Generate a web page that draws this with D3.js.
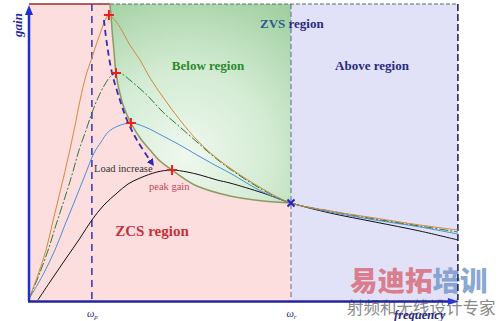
<!DOCTYPE html>
<html><head><meta charset="utf-8">
<script src="https://cdn.jsdelivr.net/npm/d3@7"></script>
<style>body{margin:0;background:#fff}svg{display:block}</style>
</head><body><svg id="c" width="500" height="321"></svg>
<script>
// normalized frequency (f / fr) and gain
const orangeCurve = [[0,0.01],[0.034,0.258],[0.065,0.515],[0.088,0.773],[0.111,1.031],[0.134,1.289],[0.156,1.546],[0.176,1.804],[0.195,2.062],[0.218,2.320],[0.237,2.474],[0.260,2.660],[0.279,2.804],[0.294,2.907],[0.305,2.938],[0.321,2.907],[0.347,2.814],[0.385,2.629],[0.424,2.474],[0.462,2.289],[0.511,2.093],[0.576,1.856],[0.641,1.649],[0.702,1.495],[0.767,1.361],[0.893,1.144],[1,1],[1.149,0.918],[1.321,0.845],[1.492,0.773],[1.637,0.722]];
const greenCurve = [[0,0.01],[0.038,0.258],[0.073,0.515],[0.103,0.773],[0.134,1.031],[0.164,1.289],[0.191,1.546],[0.218,1.753],[0.240,1.928],[0.263,2.082],[0.286,2.206],[0.309,2.299],[0.332,2.340],[0.355,2.330],[0.385,2.268],[0.450,2.113],[0.511,1.938],[0.576,1.784],[0.641,1.629],[0.702,1.485],[0.767,1.351],[0.893,1.134],[1,1],[1.149,0.918],[1.321,0.835],[1.492,0.763],[1.637,0.701]];
const blueCurve = [[0,0.01],[0.053,0.258],[0.099,0.515],[0.137,0.773],[0.176,1.031],[0.214,1.289],[0.248,1.515],[0.275,1.629],[0.302,1.732],[0.340,1.794],[0.389,1.825],[0.443,1.784],[0.511,1.691],[0.576,1.598],[0.641,1.495],[0.702,1.402],[0.767,1.309],[0.893,1.113],[1,1],[1.149,0.907],[1.321,0.825],[1.492,0.753],[1.637,0.680]];
const blackCurve = [[0.034,0],[0.080,0.186],[0.137,0.412],[0.195,0.639],[0.240,0.825],[0.286,0.979],[0.336,1.103],[0.378,1.196],[0.424,1.258],[0.489,1.320],[0.546,1.340],[0.603,1.320],[0.653,1.289],[0.718,1.237],[0.767,1.206],[0.893,1.103],[1,1],[1.149,0.897],[1.321,0.804],[1.492,0.711],[1.637,0.619]];
const peakLocus = [[0.309,3.052],[0.313,2.938],[0.317,2.784],[0.324,2.577],[0.332,2.340],[0.344,2.165],[0.363,1.979],[0.389,1.825],[0.424,1.670],[0.462,1.546],[0.500,1.433],[0.546,1.340],[0.595,1.247],[0.641,1.175],[0.767,1.072],[0.893,1.021],[1,1]];
const peakPoints = [[0.305,2.938],[0.332,2.340],[0.389,1.825],[0.546,1.340]];
const resonancePoint = [[1,1]];
const loadArrow = [[0.286,2.887],[0.298,2.629],[0.317,2.340],[0.347,2.062],[0.374,1.856],[0.412,1.649],[0.469,1.412]];
const fP = 0.240, fR = 1, fMax = 1.637, gMax = 3.052;
const tickValues = [fP, fR];
const tickLabels = [["ω","p"],["ω","r"]];

const svg = d3.select("#c");
const x = d3.scaleLinear().domain([0, 1.65]).range([29, 461.3]);
const y = d3.scaleLinear().domain([0, gMax]).range([300, 4]);
const serif = "'Liberation Serif','Times New Roman',serif";
const smooth = d3.curveCatmullRom.alpha(0.5);

const defs = svg.append("defs");
const rg = defs.append("radialGradient").attr("id","gg").attr("gradientUnits","userSpaceOnUse")
  .attr("cx",185).attr("cy",155).attr("r",215);
rg.append("stop").attr("offset",0).attr("stop-color","#eff8ef");
rg.append("stop").attr("offset",0.4).attr("stop-color","#d3ebd3");
rg.append("stop").attr("offset",1).attr("stop-color","#8cc48c");
defs.append("marker").attr("id","ah").attr("viewBox","0 0 10 10").attr("refX",5).attr("refY",5)
  .attr("markerWidth",4).attr("markerHeight",4).attr("orient","auto-start-reverse")
  .append("path").attr("d","M0,0L10,5L0,10z").attr("fill","#2a2ab0");

// regions
svg.append("rect").attr("x",x(0)).attr("y",y(gMax)).attr("width",x(fR)-x(0)).attr("height",y(0)-y(gMax)).attr("fill","#fcdede");
svg.append("rect").attr("x",x(fR)).attr("y",y(gMax)).attr("width",x(fMax)-x(fR)).attr("height",y(0)-y(gMax)).attr("fill","#e1e1f7");
svg.append("path").datum(peakLocus)
  .attr("d", d3.area().x(d=>x(d[0])).y0(y(gMax)).y1(d=>y(d[1])).curve(smooth))
  .attr("fill","url(#gg)");

// watermark
const wm = svg.append("text").attr("x",350).attr("y",291)
  .attr("font-family","'Noto Sans CJK SC',sans-serif").attr("font-weight",900).attr("font-size",27.5);
wm.append("tspan").attr("fill","#d9707e").attr("fill-opacity",0.9).text("易迪拓");
wm.append("tspan").attr("fill","#7b9ccb").attr("fill-opacity",0.9).text("培训");
svg.append("text").attr("x",347).attr("y",314).attr("font-family","'Noto Sans CJK SC',sans-serif")
  .attr("font-size",16.5).attr("fill","#8a8a8a").text("射频和无线设计专家");

// borders
svg.append("line").attr("x1",x(0)).attr("x2",x(0.309)).attr("y1",y(gMax)).attr("y2",y(gMax)).attr("stroke","#a02a2a").attr("stroke-width",1.5);
svg.append("line").attr("x1",x(0.309)).attr("x2",x(fMax)).attr("y1",y(gMax)).attr("y2",y(gMax)).attr("stroke","#5f6f62").attr("stroke-width",1.2).attr("stroke-dasharray","4,2");
svg.append("line").attr("x1",x(fMax)).attr("x2",x(fMax)).attr("y1",y(gMax)).attr("y2",y(0)).attr("stroke","#1a1a50").attr("stroke-width",1.5).attr("stroke-dasharray","7,3");
svg.append("line").attr("x1",x(fP)).attr("x2",x(fP)).attr("y1",y(gMax)).attr("y2",y(0)).attr("stroke","#3535a5").attr("stroke-width",1.5).attr("stroke-dasharray","7,5");
svg.append("line").attr("x1",x(fR)).attr("x2",x(fR)).attr("y1",y(gMax)).attr("y2",y(0)).attr("stroke","#5a6a9a").attr("stroke-width",1).attr("stroke-dasharray","5,3");

// curves
const line = d3.line().x(d=>x(d[0])).y(d=>y(d[1])).curve(smooth);
svg.append("path").datum(peakLocus).attr("d",line).attr("fill","none").attr("stroke","#8d9a62").attr("stroke-width",1.5);
svg.append("path").datum(blackCurve).attr("d",line).attr("fill","none").attr("stroke","#111").attr("stroke-width",1);
svg.append("path").datum(blueCurve).attr("d",line).attr("fill","none").attr("stroke","#4a8fd6").attr("stroke-width",1);
svg.append("path").datum(greenCurve).attr("d",line).attr("fill","none").attr("stroke","#2a7a38").attr("stroke-width",1).attr("stroke-dasharray","9,2,2,2");
svg.append("path").datum(orangeCurve).attr("d",line).attr("fill","none").attr("stroke","#d28a3c").attr("stroke-width",1);

// load increase arrow
svg.append("path").datum(loadArrow).attr("d",d3.line().x(d=>x(d[0])).y(d=>y(d[1])).curve(smooth))
  .attr("fill","none").attr("stroke","#3030b0").attr("stroke-width",1.8).attr("stroke-dasharray","6,4")
  .attr("marker-end","url(#ah)");

// markers
svg.selectAll(".pk").data(peakPoints).join("path").attr("class","pk")
  .attr("d",d=>`M${x(d[0])-5},${y(d[1])}h10M${x(d[0])},${y(d[1])-5}v10`)
  .attr("stroke","#e52222").attr("stroke-width",2);
svg.selectAll(".rs").data(resonancePoint).join("path").attr("class","rs")
  .attr("d",d=>`M${x(d[0])-3.5},${y(d[1])-3.5}l7,7M${x(d[0])-3.5},${y(d[1])+3.5}l7,-7`)
  .attr("stroke","#2323c0").attr("stroke-width",2);

// axes
svg.append("line").attr("x1",x(0)).attr("x2",x(0)).attr("y1",301).attr("y2",14).attr("stroke","#1f2fd0").attr("stroke-width",2.5);
svg.append("path").attr("d",`M${x(0)-4},15L${x(0)},5L${x(0)+4},15z`).attr("fill","#1f2fd0");
svg.append("line").attr("x1",x(0)-1).attr("x2",x(fMax)-6).attr("y1",301.5).attr("y2",301.5).attr("stroke","#23239a").attr("stroke-width",2.5);
svg.append("path").attr("d",`M${x(fMax)-10},298L${x(fMax)+1},301.5L${x(fMax)-10},305z`).attr("fill","#2a3ad0");

const ax = svg.append("g").attr("transform","translate(0,301)")
  .call(d3.axisBottom(x).tickValues(tickValues).tickSize(0).tickPadding(9).tickFormat(""));
ax.select(".domain").remove();
ax.selectAll(".tick text").each(function(d,i){
  const t = d3.select(this).attr("font-family",serif).attr("font-style","italic").attr("font-size",10.5).attr("fill","#2a2a80");
  t.append("tspan").text(tickLabels[i][0]);
  t.append("tspan").attr("font-size",7).attr("dy",2).text(tickLabels[i][1]);
});

// labels
svg.append("text").attr("transform","translate(22,25) rotate(-90)").attr("text-anchor","middle")
  .attr("font-family",serif).attr("font-style","italic").attr("font-weight","bold").attr("font-size",13).attr("fill","#2a2aa0").text("gain");
svg.append("text").attr("x",394).attr("y",319).attr("font-family",serif).attr("font-style","italic").attr("font-weight","bold")
  .attr("font-size",12.5).attr("fill","#2a2a80").text("frequency");
const zvs = svg.append("text").attr("x",260).attr("y",28).attr("font-family",serif).attr("font-weight","bold").attr("font-size",13);
zvs.append("tspan").attr("fill","#2c5a8c").text("ZVS ");
zvs.append("tspan").attr("fill","#2a2a80").text("region");
svg.append("text").attr("x",208).attr("y",70).attr("text-anchor","middle").attr("font-family",serif).attr("font-weight","bold")
  .attr("font-size",13).attr("fill","#2a8a2a").text("Below region");
svg.append("text").attr("x",372).attr("y",70).attr("text-anchor","middle").attr("font-family",serif).attr("font-weight","bold")
  .attr("font-size",13).attr("fill","#2a2a80").text("Above region");
svg.append("text").attr("x",152).attr("y",236).attr("text-anchor","middle").attr("font-family",serif).attr("font-weight","bold")
  .attr("font-size",15).attr("fill","#c83040").text("ZCS region");
svg.append("text").attr("x",94).attr("y",172).attr("font-family",serif).attr("font-size",10.5).attr("fill","#333").text("Load increase");
svg.append("text").attr("x",149).attr("y",190).attr("font-family",serif).attr("font-size",10.5).attr("fill","#c04858").text("peak gain");
</script></body></html>
